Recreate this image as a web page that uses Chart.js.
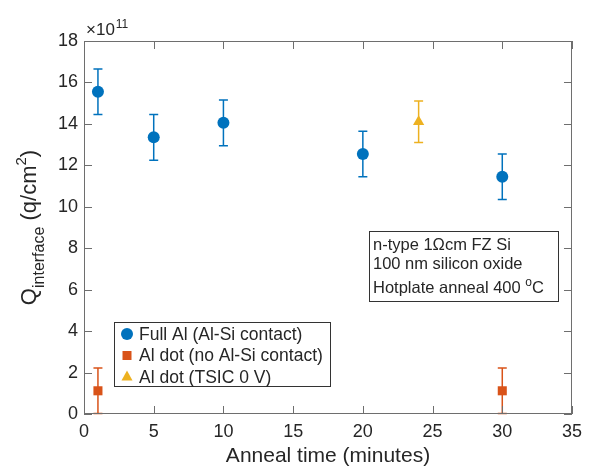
<!DOCTYPE html>
<html>
<head>
<meta charset="utf-8">
<script src="https://cdn.jsdelivr.net/npm/chart.js@4.4.0/dist/chart.umd.min.js"></script>
<style>
html, body { margin: 0; padding: 0; background: #fff; }
</style>
</head>
<body>
<canvas id="chart" width="589" height="466"></canvas>
<script>
var time_full = [1, 5, 10, 20, 30];
var q_full = [15.55, 13.35, 14.05, 12.55, 11.45];
var err_full = [1.1, 1.1, 1.1, 1.1, 1.1];

var time_dot = [1, 30];
var q_dot = [1.12, 1.12];
var err_dot = [1.1, 1.1];

var time_tsic = [24];
var q_tsic = [14.1];
var err_tsic = [1.0];

var series_names = ['Full Al (Al-Si contact)', 'Al dot (no Al-Si contact)', 'Al dot (TSIC 0 V)'];
var note_lines = ['n-type 1\u03A9cm FZ Si', '100 nm silicon oxide', 'Hotplate anneal 400 '];

var FONT = 'Arial, "Liberation Sans", Helvetica, sans-serif';
var TEXT = '#262626';
var AXIS = '#6e6e6e';
var BLUE = '#0072BD', ORANGE = '#D95319', YELLOW = '#EDB120';

function points(xs, ys)
{
    return xs.map(function (x, i)
    {
        return { x: x, y: ys[i] };
    });
}

var bars = [
    { xs: time_full, ys: q_full, es: err_full, color: BLUE },
    { xs: time_dot, ys: q_dot, es: err_dot, color: ORANGE },
    { xs: time_tsic, ys: q_tsic, es: err_tsic, color: YELLOW }
];

function marker(ctx, style, x, y, color)
{
    ctx.save();
    ctx.fillStyle = color;
    ctx.beginPath();
    if (style == 'circle') ctx.arc(x, y, 6, 0, Math.PI * 2);
    else if (style == 'rect') ctx.rect(x - 4.5, y - 4.5, 9, 9);
    else
    {
        ctx.moveTo(x, y - 6.5);
        ctx.lineTo(x + 5.5, y + 3.5);
        ctx.lineTo(x - 5.5, y + 3.5);
        ctx.closePath();
    }
    ctx.fill();
    ctx.restore();
}

var decor = {
    id: 'decor',
    beforeDatasetsDraw: function (chart)
    {
        var ctx = chart.ctx, xs = chart.scales.x, ys = chart.scales.y, a = chart.chartArea;

        ctx.save();
        ctx.beginPath();
        ctx.rect(a.left, a.top - 1, a.right - a.left, a.bottom - a.top + 2);
        ctx.clip();
        ctx.lineWidth = 1.5;
        bars.forEach(function (b)
        {
            ctx.strokeStyle = b.color;
            for (var i = 0; i < b.xs.length; i++)
            {
                var px = xs.getPixelForValue(b.xs[i]);
                var top = ys.getPixelForValue(b.ys[i] + b.es[i]);
                var bot = ys.getPixelForValue(b.ys[i] - b.es[i]);
                ctx.beginPath();
                ctx.moveTo(px, top); ctx.lineTo(px, bot);
                ctx.moveTo(px - 4.5, top); ctx.lineTo(px + 4.5, top);
                ctx.moveTo(px - 4.5, bot); ctx.lineTo(px + 4.5, bot);
                ctx.stroke();
            }
        });
        ctx.restore();
    },
    afterDraw: function (chart)
    {
        var ctx = chart.ctx, xs = chart.scales.x, ys = chart.scales.y, a = chart.chartArea;

        // frame and inward ticks
        ctx.save();
        ctx.strokeStyle = AXIS;
        ctx.lineWidth = 1;
        ctx.strokeRect(a.left + 0.5, a.top + 0.5, a.right - a.left - 1, a.bottom - a.top - 1);
        ctx.beginPath();
        xs.ticks.forEach(function (t)
        {
            var px = Math.round(xs.getPixelForValue(t.value)) + 0.5;
            ctx.moveTo(px, a.bottom); ctx.lineTo(px, a.bottom - 8);
            ctx.moveTo(px, a.top); ctx.lineTo(px, a.top + 8);
        });
        ys.ticks.forEach(function (t)
        {
            var py = Math.round(ys.getPixelForValue(t.value)) + 0.5;
            ctx.moveTo(a.left, py); ctx.lineTo(a.left + 8, py);
            ctx.moveTo(a.right, py); ctx.lineTo(a.right - 8, py);
        });
        ctx.stroke();
        ctx.restore();

        ctx.save();
        ctx.fillStyle = TEXT;
        ctx.textBaseline = 'alphabetic';

        // x title
        ctx.font = '21px ' + FONT;
        ctx.textAlign = 'center';
        ctx.fillText('Anneal time (minutes)', (a.left + a.right) / 2, 462);

        // exponent
        ctx.textAlign = 'left';
        ctx.font = '17px ' + FONT;
        ctx.fillText('\u00D710', 86, 35);
        var w = ctx.measureText('\u00D710').width;
        ctx.font = '12px ' + FONT;
        ctx.fillText('11', 86 + w + 1, 28);

        // y title, rotated
        ctx.save();
        ctx.translate(36, (a.top + a.bottom) / 2);
        ctx.rotate(-Math.PI / 2);
        var parts = [
            { t: 'Q', f: 22, dy: 0 },
            { t: 'interface', f: 16, dy: 8 },
            { t: ' (q/cm', f: 22, dy: 0 },
            { t: '2', f: 15, dy: -10 },
            { t: ')', f: 22, dy: 0 }
        ];
        var total = 0;
        parts.forEach(function (p)
        {
            ctx.font = p.f + 'px ' + FONT;
            p.w = ctx.measureText(p.t).width;
            total += p.w;
        });
        var cx = -total / 2;
        parts.forEach(function (p)
        {
            ctx.font = p.f + 'px ' + FONT;
            ctx.fillText(p.t, cx, p.dy);
            cx += p.w;
        });
        ctx.restore();

        // legend
        ctx.fillStyle = '#fff';
        ctx.fillRect(114, 322, 217, 65);
        ctx.strokeStyle = '#333';
        ctx.strokeRect(114.5, 322.5, 216, 64);
        var styles = ['circle', 'rect', 'triangle'];
        var colors = [BLUE, ORANGE, YELLOW];
        ctx.font = '17.5px ' + FONT;
        ctx.textBaseline = 'middle';
        for (var i = 0; i < series_names.length; i++)
        {
            var ly = 334 + i * 21.5;
            marker(ctx, styles[i], 127, ly, colors[i]);
            ctx.fillStyle = TEXT;
            ctx.fillText(series_names[i], 139, ly + 1);
        }

        // note box
        ctx.fillStyle = '#fff';
        ctx.fillRect(369, 231, 190, 71);
        ctx.strokeStyle = '#333';
        ctx.strokeRect(369.5, 231.5, 189, 70);
        ctx.fillStyle = TEXT;
        ctx.textBaseline = 'alphabetic';
        ctx.font = '16.5px ' + FONT;
        ctx.fillText(note_lines[0], 373, 250);
        ctx.fillText(note_lines[1], 373, 269);
        ctx.fillText(note_lines[2], 373, 293);
        var nw = ctx.measureText(note_lines[2]).width;
        ctx.font = '12px ' + FONT;
        ctx.fillText('o', 373 + nw, 286);
        var ow = ctx.measureText('o').width;
        ctx.font = '16.5px ' + FONT;
        ctx.fillText('C', 373 + nw + ow, 293);

        ctx.restore();
    }
};

new Chart(document.getElementById('chart'), {
    type: 'scatter',
    data: {
        datasets: [
            { label: series_names[0], data: points(time_full, q_full), pointStyle: 'circle', pointRadius: 6, backgroundColor: BLUE, borderColor: BLUE, borderWidth: 0 },
            { label: series_names[1], data: points(time_dot, q_dot), pointStyle: 'rect', pointRadius: 6.4, backgroundColor: ORANGE, borderColor: ORANGE, borderWidth: 0 },
            { label: series_names[2], data: points(time_tsic, q_tsic), pointStyle: 'triangle', pointRadius: 6.5, backgroundColor: YELLOW, borderColor: YELLOW, borderWidth: 0 }
        ]
    },
    options: {
        responsive: false,
        animation: false,
        layout: { padding: { left: 0, right: 13, top: 41, bottom: 0 } },
        plugins: { legend: { display: false }, tooltip: { enabled: false } },
        scales: {
            x: {
                type: 'linear', min: 0, max: 35,
                ticks: { stepSize: 5, padding: 7, maxRotation: 0, color: TEXT, font: { family: FONT, size: 18 } },
                grid: { display: false, drawTicks: false }, border: { display: false },
                afterFit: function (s) { s.height = 52; }
            },
            y: {
                min: 0, max: 18,
                ticks: { stepSize: 2, padding: 6, color: TEXT, font: { family: FONT, size: 18 } },
                grid: { display: false, drawTicks: false }, border: { display: false },
                afterFit: function (s) { s.width = 84; }
            }
        }
    },
    plugins: [decor]
});
</script>
</body>
</html>
